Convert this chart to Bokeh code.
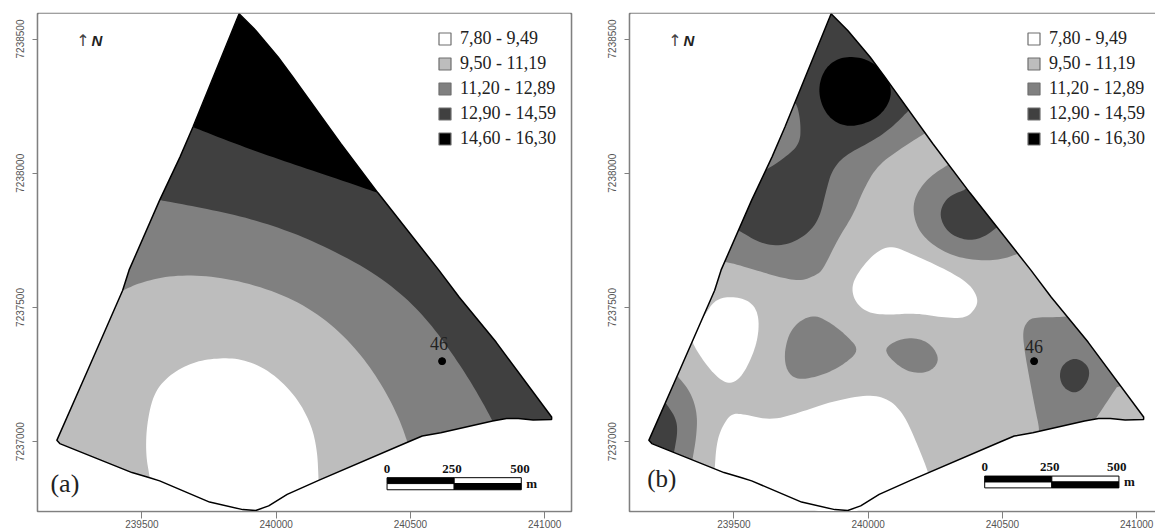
from bokeh.plotting import figure
from bokeh.layouts import row, column
from bokeh.models import Range1d, FixedTicker, BasicTickFormatter, Legend, LegendItem
from bokeh.core.properties import value
from bokeh.embed import file_html
from bokeh.resources import INLINE

CLASS_LABELS = ["7,80 - 9,49", "9,50 - 11,19", "11,20 - 12,89", "12,90 - 14,59", "14,60 - 16,30"]
CLASS_COLORS = ["#ffffff", "#bdbdbd", "#808080", "#404040", "#000000"]
X_TICKS = [239500, 240000, 240500, 241000]
Y_TICKS = [7237000, 7237500, 7238000, 7238500]
X_RANGE = (239111, 241100)
Y_RANGE = (7236740, 7238595)

BOUNDARY = [(239862,7238594),(239924,7238532),(240007,7238433),(240062,7238359),(240241,7238110),
            (240379,7237927),(240606,7237639),(240682,7237538),(240819,7237371),(241026,7237092),
            (241026,7237083),(240957,7237081),(240902,7237086),(240858,7237086),(240806,7237077),
            (240613,7237033),(240544,7237021),(240489,7236998),(240158,7236856),(240041,7236804),
            (239972,7236761),(239924,7236744),(239876,7236747),(239752,7236775),(239566,7236854),
            (239529,7236866),(239463,7236885),(239194,7236993),(239183,7237005),(239298,7237266),
            (239428,7237563),(239452,7237639),(239566,7237900),(239642,7238061),(239690,7238172)]

A_DARK_TOP = [(239690,7238172),(239855,7238107),(240021,7238048),(240186,7237993),(240379,7237927)]
A_MID_TOP = [(239566,7237900),(239690,7237877),(239855,7237844),(240021,7237794),(240158,7237738),
             (240351,7237639),(240489,7237532),(240585,7237427),(240682,7237290),(240751,7237179),(240806,7237077)]
A_LIGHT_TOP = [(239428,7237563),(239497,7237594),(239607,7237619),(239745,7237619),(239910,7237588),
               (240076,7237526),(240213,7237433),(240324,7237315),(240406,7237191),(240461,7237079),(240489,7236998)]
A_WHITE_TOP = [(239529,7236866),(239514,7236955),(239518,7237067),(239545,7237185),(239610,7237255),
               (239695,7237298),(239785,7237312),(239875,7237308),(239975,7237265),(240072,7237172),
               (240130,7237067),(240153,7236968),(240158,7236856)]

B_MID_N = [(240220,7238154),(240131,7238098),(240035,7238030),(239981,7237937),(239947,7237850),(239885,7237751),
           (239831,7237639),(239803,7237619),(239749,7237598),(239667,7237613),(239585,7237638),(239476,7237670),(239442,7237670)]
B_DARK_N = [(240158,7238241),(240090,7238172),(240022,7238123),(239913,7238067),(239865,7238011),(239844,7237937),
            (239817,7237825),(239762,7237763),(239681,7237728),(239599,7237738),(239517,7237788),(239489,7237800)]
B_DARK_N2 = [(239585,7238005),(239616,7238009),(239694,7238061),(239746,7238110),(239749,7238185),(239735,7238259),(239715,7238266)]
B_BLACK = [(239933,7238437),(240008,7238421),(240070,7238365),(240090,7238297),(240063,7238234),(240008,7238191),
           (239933,7238172),(239872,7238191),(239831,7238241),(239814,7238309),(239831,7238377),(239872,7238421)]
B_MID_E = [(240295,7238030),(240227,7237986),(240179,7237924),(240165,7237862),(240186,7237788),(240240,7237732),
           (240322,7237689),(240418,7237674),(240500,7237679),(240561,7237701),(240595,7237720)]
B_MID_E_OUT = [(240700,7237800),(240500,7238100),(240330,7238080)]
B_DARK_E = [(240356,7237937),(240295,7237912),(240265,7237856),(240281,7237800),(240322,7237763),(240384,7237748),
            (240438,7237766),(240479,7237798)]
B_DARK_E_OUT = [(240560,7237900),(240460,7238020)]
B_WHITE_C = [(240083,7237732),(240158,7237701),(240295,7237639),(240377,7237588),(240408,7237538),(240404,7237501),
             (240363,7237458),(240268,7237464),(240172,7237479),(240090,7237473),(240008,7237476),(239954,7237514),
             (239936,7237576),(239967,7237638),(240022,7237701)]
B_WHITE_W = [(239476,7237541),(239544,7237532),(239585,7237495),(239595,7237427),(239578,7237340),(239530,7237241),
             (239483,7237213),(239435,7237241),(239380,7237309),(239340,7237377),(239350,7237408),(239394,7237476),(239428,7237526)]
B_MID_SW = [(239291,7237243),(239339,7237185),(239364,7237104),(239360,7237017),(239346,7236937),(239340,7236900)]
B_MID_SW_OUT = [(239150,7236960),(239150,7237050),(239250,7237260)]
B_DARK_SW = [(239246,7237144),(239282,7237092),(239291,7237042),(239278,7236965),(239270,7236930)]
B_DARK_SW_OUT = [(239150,7236960),(239150,7237060),(239220,7237150)]
B_MID_C1 = [(239790,7237476),(239858,7237445),(239926,7237390),(239967,7237340),(239913,7237290),(239831,7237247),
            (239735,7237228),(239694,7237266),(239687,7237340),(239715,7237427)]
B_MID_C2 = [(240158,7237390),(240227,7237371),(240265,7237315),(240247,7237272),(240199,7237253),(240131,7237266),
            (240056,7237336),(240090,7237371)]
B_MID_SE1 = [(240926,7237203),(240848,7237086),(240824,7237050)]
B_MID_SE2 = [(240630,7237010),(240639,7237042),(240623,7237117),(240602,7237228),(240582,7237340),(240575,7237414),
             (240595,7237452),(240623,7237464),(240739,7237464),(240790,7237480)]
B_MID_SE_OUT = [(241020,7237230)]
B_DARK_SE = [(240773,7237315),(240820,7237284),(240825,7237241),(240800,7237197),(240766,7237179),(240725,7237203),
             (240711,7237247),(240725,7237290)]
B_WHITE_S = [(239428,7236895),(239435,7236993),(239455,7237055),(239489,7237104),(239530,7237104),(239640,7237079),
             (239749,7237110),(239858,7237148),(239995,7237176),(240076,7237160),(240131,7237104),(240172,7237017),
             (240224,7236887),(240230,7236850)]
B_WHITE_S_OUT = [(239900,7236720),(239350,7236860)]

POINT_X, POINT_Y, POINT_LABEL = [240618], [7237300], ["46"]
ARROW_XY, N_XY = (239280, 7238495), (239332, 7238495)
A_TAG = ("(a)", 239213, 7236844)
B_TAG = ("(b)", 239231, 7236863)
A_SCALE_X, A_SCALE_Y = [240413, 240663, 240913], [7236866, 7236844, 7236821]
B_SCALE_X, B_SCALE_Y = [240434, 240684, 240934], [7236872, 7236850, 7236828]
A_SCALE_LABEL_X = [240413, 240655, 240908]
B_SCALE_LABEL_X = [240434, 240676, 240926]
SCALE_LABELS = ["0", "250", "500"]

SERIF = value("Liberation Serif")
SANS = value("Liberation Sans")


def round_open(pts, n=3):
    for _ in range(n):
        out = [pts[0]]
        for a, b in zip(pts[:-1], pts[1:]):
            out.append((0.75 * a[0] + 0.25 * b[0], 0.75 * a[1] + 0.25 * b[1]))
            out.append((0.25 * a[0] + 0.75 * b[0], 0.25 * a[1] + 0.75 * b[1]))
        out.append(pts[-1])
        pts = out
    return pts


def round_closed(pts, n=3):
    for _ in range(n):
        out = []
        for a, b in zip(pts, pts[1:] + pts[:1]):
            out.append((0.75 * a[0] + 0.25 * b[0], 0.75 * a[1] + 0.25 * b[1]))
            out.append((0.25 * a[0] + 0.75 * b[0], 0.25 * a[1] + 0.75 * b[1]))
        pts = out
    return pts


def poly(p, pts, color):
    p.patch([q[0] for q in pts], [q[1] for q in pts], fill_color=color, line_color=None)


def base(right_border):
    p = figure(frame_width=534, frame_height=498, output_backend="svg", toolbar_location=None,
               x_range=Range1d(*X_RANGE), y_range=Range1d(*Y_RANGE),
               min_border_left=37, min_border_right=right_border, min_border_top=13, min_border_bottom=20,
               outline_line_color="#808080", outline_line_width=1.6,
               styles={"flex-shrink": "0"})
    p.grid.visible = False
    p.xaxis.ticker = FixedTicker(ticks=X_TICKS)
    p.yaxis.ticker = FixedTicker(ticks=Y_TICKS)
    for ax in (p.xaxis, p.yaxis):
        ax.formatter = BasicTickFormatter(use_scientific=False)
        ax.axis_line_color = "#808080"
        ax.major_tick_line_color = "#808080"
        ax.minor_tick_line_color = None
        ax.major_label_text_color = "#555555"
        ax.major_label_text_font = "Liberation Sans"
        ax.major_label_text_font_size = "10px"
    p.xaxis.major_tick_out = 7
    p.xaxis.major_tick_in = 0
    p.xaxis.major_label_standoff = 1
    p.yaxis.major_tick_out = 5
    p.yaxis.major_tick_in = 0
    p.yaxis.major_label_standoff = 8
    p.yaxis.major_label_orientation = "vertical"
    return p


def finish(p, tag, scale_x, scale_y, label_x, legend_x, tag_size, pt_dx, pt_dy):
    ox = [X_RANGE[0] + 5, X_RANGE[1] - 5, X_RANGE[1] - 5, X_RANGE[0] + 5]
    oy = [Y_RANGE[0] + 5, Y_RANGE[0] + 5, Y_RANGE[1], Y_RANGE[1]]
    bx = [q[0] for q in BOUNDARY]
    by = [q[1] for q in BOUNDARY]
    p.multi_polygons(xs=[[[ox, bx]]], ys=[[[oy, by]]], fill_color="#ffffff", line_color=None)
    p.patch(bx + bx[:1], by + by[:1], fill_color=None, line_color="#000000", line_width=1.5)

    p.scatter(POINT_X, POINT_Y, size=7, color="#000000")
    p.text(POINT_X, POINT_Y, text=POINT_LABEL, text_font=SERIF, text_font_size="18px", text_color="#222222",
           text_align="center", text_baseline="bottom", x_offset=pt_dx, y_offset=pt_dy)
    p.text([ARROW_XY[0]], [ARROW_XY[1]], text=["↑"], text_font=value("DejaVu Sans"), text_font_size="16px", text_color="#444444",
           text_align="center", text_baseline="middle")
    p.text([N_XY[0]], [N_XY[1]], text=["N"], text_font=SANS, text_font_style="bold italic", text_font_size="15px",
           text_color="#222222", text_align="center", text_baseline="middle")
    p.text([tag[1]], [tag[2]], text=[tag[0]], text_font=SERIF, text_font_size=tag_size, text_color="#222222",
           text_align="center", text_baseline="middle")

    p.quad(left=scale_x[:1], right=scale_x[1:2], top=scale_y[:1], bottom=scale_y[1:2], fill_color="#000000", line_color="#000000")
    p.quad(left=scale_x[1:2], right=scale_x[2:], top=scale_y[:1], bottom=scale_y[1:2], fill_color="#ffffff", line_color="#000000")
    p.quad(left=scale_x[:1], right=scale_x[1:2], top=scale_y[1:2], bottom=scale_y[2:], fill_color="#ffffff", line_color="#000000")
    p.quad(left=scale_x[1:2], right=scale_x[2:], top=scale_y[1:2], bottom=scale_y[2:], fill_color="#000000", line_color="#000000")
    p.text(label_x, [scale_y[0]] * 3, text=SCALE_LABELS, text_font=SERIF, text_font_style="bold", text_font_size="13px",
           text_color="#111111", text_align="center", text_baseline="bottom", y_offset=-5)
    p.text([scale_x[2]], [scale_y[1]], text=["m"], text_font=SERIF, text_font_style="bold", text_font_size="13px",
           text_color="#111111", text_align="left", text_baseline="middle", x_offset=5)

    items = []
    for lab, col in zip(CLASS_LABELS, CLASS_COLORS):
        r = p.quad(left=[X_RANGE[0] - 900], right=[X_RANGE[0] - 800], top=[Y_RANGE[0] - 800], bottom=[Y_RANGE[0] - 900],
                   fill_color=col, line_color="#6e6e6e", line_width=1.2)
        items.append(LegendItem(label=lab, renderers=[r]))
    leg = Legend(items=items, location=(legend_x, 362), background_fill_alpha=0, border_line_color=None,
                 glyph_width=15, glyph_height=15, label_width=90, spacing=4, margin=0, padding=0,
                 label_standoff=8, label_text_font="Liberation Serif", label_text_font_size="18px",
                 label_text_color="#222222")
    p.add_layout(leg)


pa = base(21)
poly(pa, BOUNDARY, CLASS_COLORS[4])
poly(pa, round_open(A_DARK_TOP) + BOUNDARY[6:34], CLASS_COLORS[3])
poly(pa, round_open(A_MID_TOP) + BOUNDARY[15:32], CLASS_COLORS[2])
poly(pa, round_open(A_LIGHT_TOP) + BOUNDARY[18:30], CLASS_COLORS[1])
poly(pa, round_open(A_WHITE_TOP) + BOUNDARY[19:25], CLASS_COLORS[0])
finish(pa, A_TAG, A_SCALE_X, A_SCALE_Y, A_SCALE_LABEL_X, 400, "26px", -3, -11)

pb = base(29)
poly(pb, BOUNDARY, CLASS_COLORS[1])
poly(pb, BOUNDARY[0:4] + round_open(B_MID_N) + BOUNDARY[31:], CLASS_COLORS[2])
poly(pb, BOUNDARY[0:3] + round_open(B_DARK_N) + round_open(B_DARK_N2), CLASS_COLORS[3])
poly(pb, round_closed(B_BLACK), CLASS_COLORS[4])
poly(pb, round_open(B_MID_E) + B_MID_E_OUT, CLASS_COLORS[2])
poly(pb, round_open(B_DARK_E) + B_DARK_E_OUT, CLASS_COLORS[3])
poly(pb, round_closed(B_WHITE_C), CLASS_COLORS[0])
poly(pb, round_closed(B_WHITE_W), CLASS_COLORS[0])
poly(pb, round_open(B_MID_SW) + B_MID_SW_OUT, CLASS_COLORS[2])
poly(pb, round_open(B_DARK_SW) + B_DARK_SW_OUT, CLASS_COLORS[3])
poly(pb, round_closed(B_MID_C1), CLASS_COLORS[2])
poly(pb, round_closed(B_MID_C2), CLASS_COLORS[2])
poly(pb, round_open(B_MID_SE1) + round_open(B_MID_SE2) + B_MID_SE_OUT, CLASS_COLORS[2])
poly(pb, round_closed(B_DARK_SE), CLASS_COLORS[3])
poly(pb, round_open(B_WHITE_S) + B_WHITE_S_OUT, CLASS_COLORS[0])
finish(pb, B_TAG, B_SCALE_X, B_SCALE_Y, B_SCALE_LABEL_X, 397, "25px", 0, -8)

inner = row(pa, pb, spacing=0)
page = column(inner, width=1155, height=531, styles={"overflow": "hidden"})
open("out.html", "w").write(file_html(page, INLINE))
